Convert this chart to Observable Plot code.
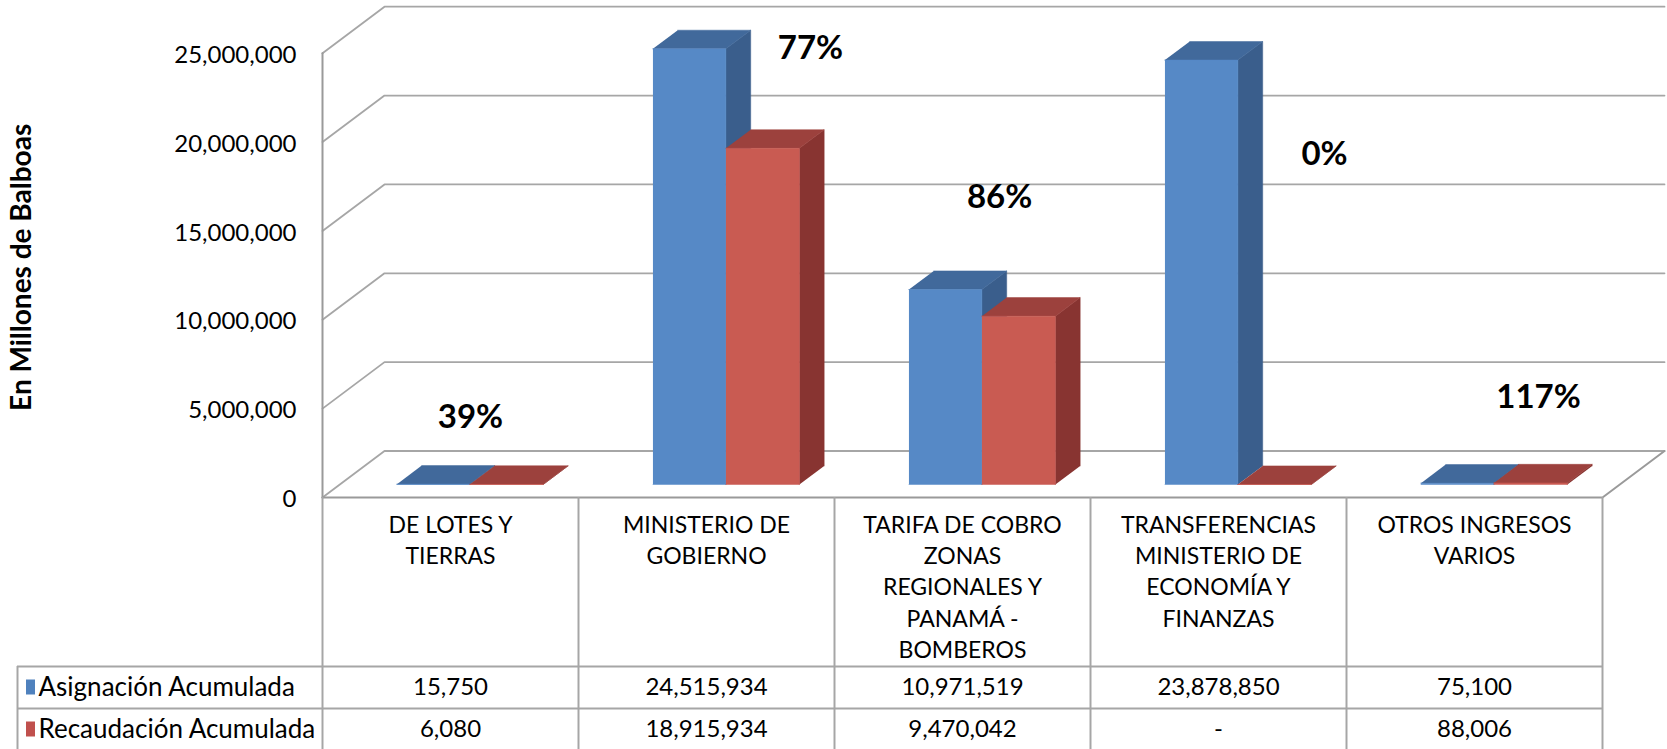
<!DOCTYPE html>
<html><head><meta charset="utf-8">
<script src="https://cdn.jsdelivr.net/npm/d3@7"></script>
<script src="https://cdn.jsdelivr.net/npm/@observablehq/plot@0.6"></script>
<style>body{margin:0;background:#fff} #chart svg{display:block}</style>
</head><body><div id="chart"></div>
<script>
// ---- data ----
const categories = [
  "DE LOTES Y\nTIERRAS",
  "MINISTERIO DE\nGOBIERNO",
  "TARIFA DE COBRO\nZONAS\nREGIONALES Y\nPANAMÁ -\nBOMBEROS",
  "TRANSFERENCIAS\nMINISTERIO DE\nECONOMÍA Y\nFINANZAS",
  "OTROS INGRESOS\nVARIOS"
];
const seriesNames = ["Asignación Acumulada", "Recaudación Acumulada"];
const asignacion = [15750, 24515934, 10971519, 23878850, 75100];
const recaudacion = [6080, 18915934, 9470042, null, 88006];
const yTicks = [0, 5000000, 10000000, 15000000, 20000000, 25000000];
const yTitle = "En Millones de Balboas";

// ---- layout ----
const W = 1667, H = 749;
const M = {left: 322, right: 65, top: 52.7, bottom: 252};
const yMax = 25000000;
const depthPx = {x: 62, y: 46.5};
const unitX = (W - M.left - M.right) / categories.length;
const unitY = (H - M.top - M.bottom) / yMax;
const DXu = depthPx.x / unitX, DYu = depthPx.y / unitY;
const P = (x, v, z) => ({x: x + z * DXu, y: v + z * DYu});
const slot = [[0.223, 0.508], [0.508, 0.795]];
const z0 = 0.28, z1 = 0.68;
const palette = [
  {front: "#5689C6", top: "#41699B", side: "#3A5E8C", key: "#4F81BD"},
  {front: "#C95B52", top: "#9C413D", side: "#883431", key: "#C0504D"}
];
// annotation placement (offset within category, height in value units)
const pctPlace = [[0.578, 4.5e6], [0.906, 25.27e6], [0.645, 16.9e6], [0.914, 19.3e6], [0.75, 5.63e6]];
const rowY = [169, 211];      // table row separators below the floor edge (px)
const rowMid = [190, 232];    // table row text centres (px)
const gridColor = "#A6A6A6";
const fmt = d3.format(",");

// ---- geometry built from data ----
const values = [asignacion, recaudacion];
const faces = [];
categories.forEach((c, i) => {
  values.forEach((arr, s) => {
    const v = arr[i] ?? 0;
    const xa = i + slot[s][0], xb = i + slot[s][1];
    const col = palette[s];
    const push = (id, color, pts) => pts.forEach(p => faces.push({id, color, x: p.x, y: p.y}));
    push(`side-${i}-${s}`, col.side, [P(xb, 0, z0), P(xb, v, z0), P(xb, v, z1), P(xb, 0, z1)]);
    push(`top-${i}-${s}`, col.top, [P(xa, v, z0), P(xb, v, z0), P(xb, v, z1), P(xa, v, z1)]);
    push(`front-${i}-${s}`, col.front, [P(xa, 0, z0), P(xb, 0, z0), P(xb, v, z0), P(xa, v, z0)]);
  });
});
const n = categories.length;
const grid = [];
yTicks.forEach(t => [P(0, t, 0), P(0, t, 1), P(n, t, 1)].forEach(p => grid.push({id: t, ...p})));
const floorEdges = [
  ...[P(0, 0, 0), P(n, 0, 0), P(n, 0, 1)].map(p => ({id: "f", ...p})),
  ...[P(0, 0, 0), P(0, yMax, 0)].map(p => ({id: "w", ...p}))
];
const pct = categories.map((c, i) => ({i, t: Math.round(100 * (recaudacion[i] ?? 0) / asignacion[i]) + "%"}));

const tableText = {y: 0, fontSize: 24, fill: "#000"};
const chart = Plot.plot({
  width: W, height: H,
  marginLeft: M.left, marginRight: M.right, marginTop: M.top, marginBottom: M.bottom,
  x: {domain: [0, n], axis: null},
  y: {domain: [0, yMax], axis: null},
  color: {type: "identity"},
  style: {fontFamily: "Lato, 'Open Sans', sans-serif", background: "#fff"},
  marks: [
    Plot.line(grid, {x: "x", y: "y", z: "id", stroke: gridColor, strokeWidth: 1.8}),
    Plot.line(floorEdges, {x: "x", y: "y", z: "id", stroke: "#9A9A9A", strokeWidth: 2}),
    Plot.line(faces, {x: "x", y: "y", z: "id", fill: "color", stroke: "color", strokeWidth: 0.5}),
    // y tick labels & title
    Plot.text(yTicks, {x: 0, y: d => d, text: d => fmt(d), textAnchor: "end", dx: -26, dy: 2, fontSize: 24, fill: "#000"}),
    Plot.text([yTitle], {x: 0, y: yMax / 2, text: d => d, rotate: -90, dx: -300, dy: -8, fontSize: 28, fontWeight: "bold", fill: "#000"}),
    // percentage annotations
    Plot.text(pct, {x: d => d.i + pctPlace[d.i][0], y: d => pctPlace[d.i][1], text: "t", fontSize: 33, fontWeight: "bold", fill: "#000"}),
    // data table grid
    Plot.ruleX(d3.range(n + 1), {x: d => d, y1: 0, y2: 0, insetBottom: -(M.bottom), stroke: gridColor, strokeWidth: 2}),
    Plot.ruleX([0], {x: 0, y1: 0, y2: 0, dx: -305, insetTop: rowY[0], insetBottom: -(M.bottom), stroke: gridColor, strokeWidth: 2}),
    Plot.ruleY([0], {y: 0, dy: rowY[0], x1: 0, x2: n, insetLeft: -305, stroke: gridColor, strokeWidth: 2}),
    Plot.ruleY([0], {y: 0, dy: rowY[1], x1: 0, x2: n, insetLeft: -305, stroke: gridColor, strokeWidth: 2}),
    // category header row
    Plot.text(categories, {x: (d, i) => i + 0.5, y: 0, dy: 13, text: d => d, lineAnchor: "top", lineHeight: 1.36, fontSize: 23, fill: "#000"}),
    // value rows
    Plot.text(asignacion, {...tableText, x: (d, i) => i + 0.5, dy: rowMid[0], text: d => d == null ? "-" : fmt(d)}),
    Plot.text(recaudacion, {...tableText, x: (d, i) => i + 0.5, dy: rowMid[1], text: d => d == null ? "-" : fmt(d)}),
    // legend keys in table
    Plot.ruleX([0], {x: 0, y1: 0, y2: 0, dx: -292, dy: rowMid[0], insetTop: -7.5, insetBottom: -7.5, stroke: palette[0].key, strokeWidth: 9}),
    Plot.ruleX([0], {x: 0, y1: 0, y2: 0, dx: -292, dy: rowMid[1], insetTop: -7.5, insetBottom: -7.5, stroke: palette[1].key, strokeWidth: 9}),
    Plot.text([seriesNames[0]], {...tableText, fontSize: 26, x: 0, dx: -284, dy: rowMid[0], text: d => d, textAnchor: "start"}),
    Plot.text([seriesNames[1]], {...tableText, fontSize: 26, x: 0, dx: -284, dy: rowMid[1], text: d => d, textAnchor: "start"})
  ]
});
document.getElementById("chart").append(chart);
</script>
</body></html>
